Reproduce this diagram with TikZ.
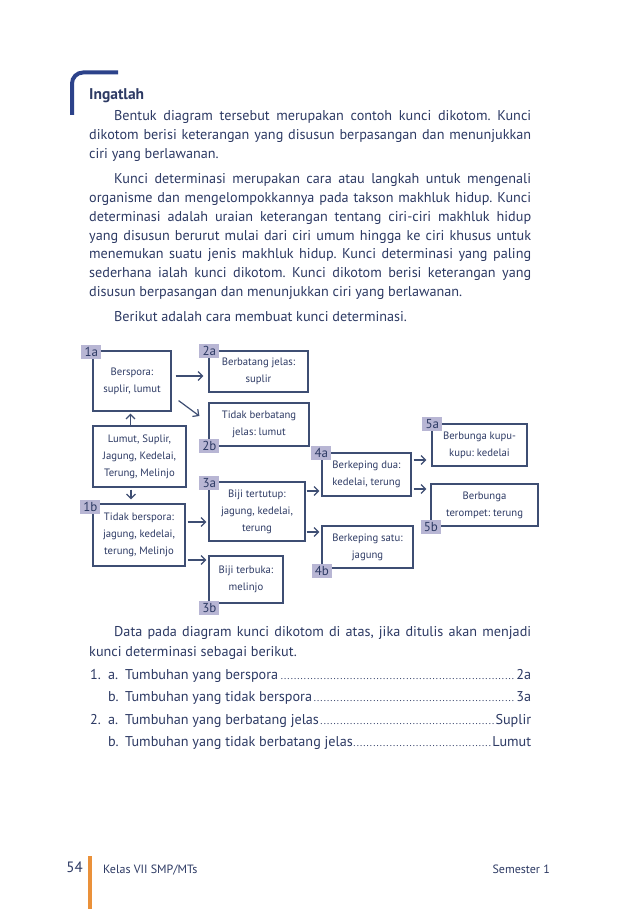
\documentclass[tikz,border=0pt]{standalone}
\usepackage{fontspec}
\setmainfont{PT Sans}
\usetikzlibrary{arrows.meta,calc}
\definecolor{ink}{RGB}{45,58,100}
\definecolor{boxc}{RGB}{62,78,115}
\definecolor{tagc}{RGB}{184,182,212}
\definecolor{brk}{RGB}{44,66,138}
\definecolor{orng}{RGB}{234,145,58}
\frenchspacing
\newcommand\jl[1]{\makebox[442pt][s]{#1}}
\newcommand\bodyf{\fontsize{14.2}{18.7}\selectfont}
\newcommand\diagf{\fontsize{10.7}{17}\selectfont}
\newcommand\leadr{\leaders\hbox to 3.3pt{\hss\fontsize{10}{10}\selectfont.\hss}\hfill}
\newcommand\lst[1]{\hbox to 406pt{#1}}
\begin{document}
\begin{tikzpicture}[x=1pt,y=-1pt,
 txt/.style={anchor=base west, inner sep=0, text=ink, font=\bodyf},
 bx/.style={draw=boxc, line width=1.2pt, inner sep=0, align=center, text=ink, font=\diagf},
 tg/.style={fill=tagc, inner sep=0, minimum width=20pt, minimum height=14pt, text=ink, font=\fontsize{13}{13}\selectfont},
 arr/.style={draw=boxc, line width=1.2pt, -{Straight Barb[length=4.5pt,width=9pt]}}]
\fill[white] (0,0) rectangle (638,909);
\useasboundingbox (0,0) rectangle (638,909);
% header bracket
\draw[draw=brk, line width=4pt, rounded corners=11pt] (72,115) -- (72,72.5) -- (118,72.5);
\node[txt, font=\fontsize{15.5}{16}\selectfont\bfseries] (head) at (89,100) {Ingatlah};
% paragraph 1
\node[txt] (a1) at (89,121) {\jl{\hspace*{25pt}Bentuk diagram tersebut merupakan contoh kunci dikotom. Kunci}};
\node[txt] (a2) at (89,139.7) {\jl{dikotom berisi keterangan yang disusun berpasangan dan menunjukkan}};
\node[txt] (a3) at (89,158.4) {ciri yang berlawanan.};
% paragraph 2
\node[txt] (b1) at (89,184) {\jl{\hspace*{25pt}Kunci determinasi merupakan cara atau langkah untuk mengenali}};
\node[txt] (b2) at (89,202.7) {\jl{organisme dan mengelompokkannya pada takson makhluk hidup. Kunci}};
\node[txt] (b3) at (89,221.4) {\jl{determinasi adalah uraian keterangan tentang ciri-ciri makhluk hidup}};
\node[txt] (b4) at (89,240.1) {\jl{yang disusun berurut mulai dari ciri umum hingga ke ciri khusus untuk}};
\node[txt] (b5) at (89,258.8) {\jl{menemukan suatu jenis makhluk hidup. Kunci determinasi yang paling}};
\node[txt] (b6) at (89,277.5) {\jl{sederhana ialah kunci dikotom. Kunci dikotom berisi keterangan yang}};
\node[txt] (b7) at (89,296.2) {disusun berpasangan dan menunjukkan ciri yang berlawanan.};
\node[txt] (c1) at (89,321) {\hspace*{25pt}Berikut adalah cara membuat kunci determinasi.};
% diagram boxes
\node[bx, minimum width=78pt, minimum height=60pt] (n1a) at (132,381) {Berspora:\\suplir, lumut};
\node[bx, minimum width=93pt, minimum height=61pt] (root) at (139.5,456.5) {Lumut, Suplir,\\Jagung, Kedelai,\\Terung, Melinjo};
\node[bx, minimum width=92pt, minimum height=62pt] (n1b) at (139,535) {Tidak berspora:\\jagung, kedelai,\\terung, Melinjo};
\node[bx, minimum width=99pt, minimum height=41pt] (n2a) at (258.5,371.5) {Berbatang jelas:\\suplir};
\node[bx, minimum width=100pt, minimum height=43pt] (n2b) at (259,424.5) {Tidak berbatang\\jelas: lumut};
\node[bx, minimum width=96pt, minimum height=59pt] (n3a) at (257,511.5) {Biji tertutup:\\jagung, kedelai,\\terung};
\node[bx, minimum width=74pt, minimum height=47pt] (n3b) at (246,579.5) {Biji terbuka:\\melinjo};
\node[bx, minimum width=89pt, minimum height=43pt] (n4a) at (366.5,474.5) {Berkeping dua:\\kedelai, terung};
\node[bx, minimum width=91pt, minimum height=42pt] (n4b) at (367.5,547) {Berkeping satu:\\jagung};
\node[bx, minimum width=95pt, minimum height=42pt] (n5a) at (479.5,445) {Berbunga kupu-\\kupu: kedelai};
\node[bx, minimum width=107pt, minimum height=42pt] (n5b) at (484.5,505) {Berbunga\\terompet: terung};
% tags
\node[tg] (t1a) at ([shift={(-1,2)}]n1a.north west) {1a};
\node[tg] (t1b) at ([shift={(-2,3.5)}]n1b.north west) {1b};
\node[tg] (t2a) at ([shift={(1,0.5)}]n2a.north west) {2a};
\node[tg] (t2b) at ([shift={(1,-0.5)}]n2b.south west) {2b};
\node[tg] (t3a) at ([shift={(1,1.5)}]n3a.north west) {3a};
\node[tg] (t3b) at ([shift={(1,4)}]n3b.south west) {3b};
\node[tg] (t4a) at ([shift={(0,0.5)}]n4a.north west) {4a};
\node[tg] (t4b) at ([shift={(0.5,2.5)}]n4b.south west) {4b};
\node[tg] (t5a) at ([shift={(1,0.5)}]n5a.north west) {5a};
\node[tg] (t5b) at ([shift={(0.5,0.5)}]n5b.south west) {5b};
% arrows
\draw[arr, shorten >=2pt] ([xshift=-1.5pt]root.north -| n1a.south) -- ([xshift=-1.5pt]n1a.south);
\draw[arr, shorten <=2pt, shorten >=4pt] ([xshift=-1pt]root.south -| n1a.south) -- ([xshift=-1pt]n1b.north -| n1a.south);
\draw[arr, shorten <=4pt, shorten >=5pt] ([shift={(0,-5)}]n1a.east) -- ([shift={(0,-5)}]n1a.east -| n2a.west);
\draw[arr] ([shift={(7,-11)}]n1a.south east) -- ([shift={(-9,-8.5)}]n2b.west);
\draw[arr, shorten <=2pt, shorten >=2pt] ([shift={(0,-13)}]n1b.east) -- ([shift={(0,-13)}]n1b.east -| n3a.west);
\draw[arr, shorten <=2pt, shorten >=2pt] ([shift={(0,25)}]n1b.east) -- ([shift={(0,25)}]n1b.east -| n3b.west);
\draw[arr, shorten <=1pt, shorten >=2pt] ([shift={(0,-20.5)}]n3a.east) -- ([shift={(0,-20.5)}]n3a.east -| n4a.west);
\draw[arr, shorten <=1pt, shorten >=2pt] ([shift={(0,20.5)}]n3a.east) -- ([shift={(0,20.5)}]n3a.east -| n4b.west);
\draw[arr, shorten <=2pt, shorten >=5pt] ([shift={(0,-14.5)}]n4a.east) -- ([shift={(0,-14.5)}]n4a.east -| n5a.west);
\draw[arr, shorten <=2pt, shorten >=4pt] ([shift={(0,14.5)}]n4a.east) -- ([shift={(0,14.5)}]n4a.east -| n5b.west);
% paragraph after diagram
\node[txt] (d1) at (89,636) {\jl{\hspace*{25pt}Data pada diagram kunci dikotom di atas, jika ditulis akan menjadi}};
\node[txt] (d2) at (89,656) {kunci determinasi sebagai berikut.};
% list
\node[txt] (l1n) at (90,679) {1.};
\node[txt] (l1a) at (108,679) {a.};
\node[txt] (l1t) at (125,679) {\lst{Tumbuhan yang berspora\leadr 2a}};
\node[txt] (l2a) at (108,701.5) {b.};
\node[txt] (l2t) at (125,701.5) {\lst{Tumbuhan yang tidak berspora\leadr 3a}};
\node[txt] (l3n) at (90,724) {2.};
\node[txt] (l3a) at (108,724) {a.};
\node[txt] (l3t) at (125,724) {\lst{Tumbuhan yang berbatang jelas\leadr Suplir}};
\node[txt] (l4a) at (108,746.5) {b.};
\node[txt] (l4t) at (125,746.5) {\lst{Tumbuhan yang tidak berbatang jelas\leadr Lumut}};
% footer
\fill[orng] (88,856) rectangle (92,909);
\node[anchor=base east, inner sep=0, text=ink, font=\fontsize{15}{15}\selectfont] (pg) at (83,872) {54};
\node[anchor=base west, inner sep=0, text=ink, font=\fontsize{12}{12}\selectfont] (ft1) at (103,873) {Kelas VII SMP/MTs};
\node[anchor=base east, inner sep=0, text=ink, font=\fontsize{12}{12}\selectfont] (ft2) at (550,873) {Semester 1};
\end{tikzpicture}
\end{document}
